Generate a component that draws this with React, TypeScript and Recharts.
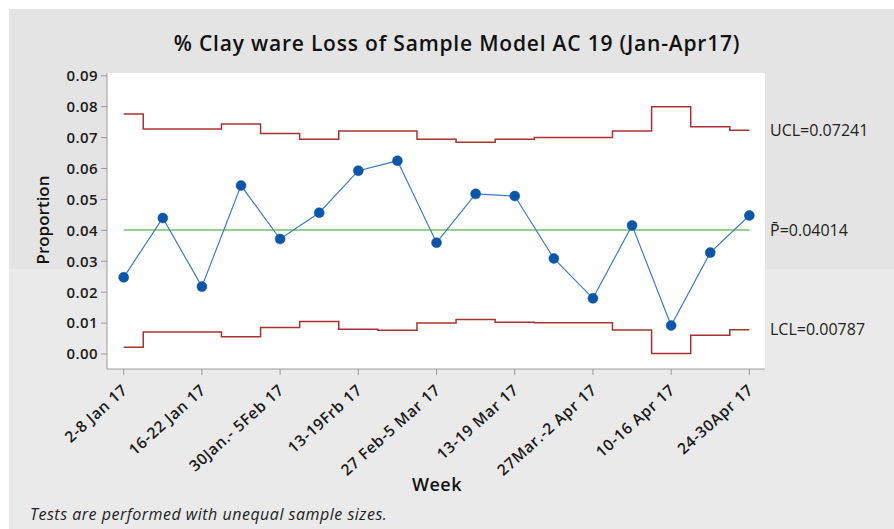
import { LineChart, Line, XAxis, YAxis, CartesianGrid, ReferenceLine } from "recharts";

// weekly proportion of clay ware loss, Jan-Apr 2017
const weeks = [1, 2, 3, 4, 5, 6, 7, 8, 9, 10, 11, 12, 13, 14, 15, 16, 17];
const proportion = [
  0.0248, 0.044, 0.0218, 0.0545, 0.0372, 0.0457, 0.0593, 0.0625, 0.036,
  0.0518, 0.0511, 0.0309, 0.018, 0.0416, 0.0092, 0.0328, 0.0448,
];
const ucl = [
  0.0776, 0.0728, 0.0728, 0.0744, 0.0713, 0.0695, 0.0721, 0.0721, 0.0695,
  0.0685, 0.0695, 0.07, 0.07, 0.0721, 0.08, 0.0735, 0.07241,
];
const lcl = [
  0.0022, 0.0071, 0.0071, 0.0056, 0.0086, 0.0105, 0.008, 0.0077, 0.01,
  0.0112, 0.0103, 0.0101, 0.0101, 0.0078, 0.0002, 0.0061, 0.00787,
];
const CL = 0.04014;
const UCL_LAST = 0.07241;
const LCL_LAST = 0.00787;

const tickWeeks = [1, 3, 5, 7, 9, 11, 13, 15, 17];
const tickLabels = [
  "2-8 Jan 17",
  "16-22 Jan 17",
  "30Jan.- 5Feb 17",
  "13-19Frb 17",
  "27 Feb-5 Mar 17",
  "13-19 Mar 17",
  "27Mar.-2 Apr 17",
  "10-16 Apr 17",
  "24-30Apr 17",
];
const yTicks = [0, 0.01, 0.02, 0.03, 0.04, 0.05, 0.06, 0.07, 0.08, 0.09];

const X_DOMAIN = [0.573, 17.4];
const Y_DOMAIN = [-0.00485, 0.0909];

const data = weeks.map((w, i) => ({ week: w, p: proportion[i], ucl: ucl[i], lcl: lcl[i] }));

const FONT = "'Open Sans', 'Noto Sans', sans-serif";

function WeekTick({ x, y, payload }: any) {
  const idx = tickWeeks.indexOf(payload.value);
  return (
    <g transform={`translate(${x},${y})`}>
      <text
        x={-6}
        y={0}
        dy={14}
        textAnchor="end"
        transform="rotate(-42)"
        fill="#1a1a1a"
        fontSize={15.5}
        letterSpacing={0.6}
        fontWeight={600}
        fontFamily={FONT}
      >
        {idx >= 0 ? tickLabels[idx] : ""}
      </text>
    </g>
  );
}

export default function App() {
  return (
    <div style={{ position: "absolute", left: 0, top: 0, width: 894, height: 529, background: "#fff", fontFamily: FONT }}>
      <div
        style={{
          position: "absolute",
          left: 9,
          top: 9,
          width: 885,
          height: 520,
          background: "linear-gradient(#e4e4e4 0px, #e4e4e4 260px, #eaeaea 260px)",
        }}
      />
      <div
        style={{
          position: "absolute",
          left: 0,
          width: 894,
          top: 29,
          textAlign: "center",
          paddingLeft: 20,
          boxSizing: "border-box",
          fontSize: 21,
          letterSpacing: 0.8,
          fontWeight: 600,
          color: "#111",
        }}
      >
        % Clay ware Loss of Sample Model AC 19 (Jan-Apr17)
      </div>
      <div
        style={{
          position: "absolute",
          left: 42,
          top: 220,
          transform: "translate(-50%, -50%) rotate(-90deg)",
          fontSize: 17,
          fontWeight: 600,
          color: "#111",
          whiteSpace: "nowrap",
        }}
      >
        Proportion
      </div>
      <div
        style={{
          position: "absolute",
          left: 437,
          top: 484,
          transform: "translate(-50%, -50%)",
          fontSize: 18,
          letterSpacing: 0.5,
          fontWeight: 600,
          color: "#111",
        }}
      >
        Week
      </div>
      <div
        style={{
          position: "absolute",
          left: 30,
          top: 503,
          fontSize: 16,
          letterSpacing: 0.5,
          fontStyle: "italic",
          color: "#222",
          whiteSpace: "nowrap",
        }}
      >
        Tests are performed with unequal sample sizes.
      </div>
      <div style={{ position: "absolute", left: 0, top: 0 }}>
        <LineChart width={894} height={529} data={data} margin={{ top: 73, right: 129, left: 47, bottom: 60 }}>
          <CartesianGrid horizontal={false} vertical={false} fill="#ffffff" />
          <XAxis
            dataKey="week"
            type="number"
            domain={X_DOMAIN}
            allowDataOverflow
            ticks={tickWeeks}
            interval={0}
            height={100}
            tick={<WeekTick />}
            tickSize={6}
            axisLine={{ stroke: "#9a9a9a" }}
            tickLine={{ stroke: "#9a9a9a" }}
          />
          <XAxis
            xAxisId="top"
            orientation="top"
            type="number"
            domain={X_DOMAIN}
            height={0}
            tick={false}
            tickLine={false}
            axisLine={{ stroke: "#9a9a9a" }}
          />
          <YAxis
            type="number"
            domain={Y_DOMAIN}
            allowDataOverflow
            ticks={yTicks}
            interval={0}
            width={60}
            tickFormatter={(v: number) => v.toFixed(2)}
            tick={{ fill: "#1a1a1a", fontSize: 15, fontWeight: 600, fontFamily: FONT, letterSpacing: 0.4 }}
            tickSize={6}
            tickMargin={3}
            axisLine={{ stroke: "#9a9a9a" }}
            tickLine={{ stroke: "#9a9a9a" }}
          />
          <YAxis
            yAxisId="right"
            orientation="right"
            width={0}
            tick={false}
            tickLine={false}
            axisLine={{ stroke: "#9a9a9a" }}
          />
          <ReferenceLine
            segment={[
              { x: weeks[0], y: CL },
              { x: weeks[weeks.length - 1], y: CL },
            ]}
            stroke="#74bf74"
            strokeWidth={1.5}
          />
          <Line type="step" dataKey="ucl" stroke="#a83232" strokeWidth={1.5} dot={false} isAnimationActive={false} />
          <Line type="step" dataKey="lcl" stroke="#a83232" strokeWidth={1.5} dot={false} isAnimationActive={false} />
          <Line
            type="linear"
            dataKey="p"
            stroke="#3d7cc9"
            strokeWidth={1.2}
            dot={{ r: 5, fill: "#0b56a6", stroke: "#0b56a6", strokeWidth: 0.5 }}
            isAnimationActive={false}
          />
          <ReferenceLine
            y={UCL_LAST}
            stroke="none"
            label={{ value: "UCL=0.07241", position: "right", fill: "#222", fontSize: 16, fontFamily: FONT }}
          />
          <ReferenceLine
            y={CL}
            stroke="none"
            label={{ value: "P\u0304=0.04014", position: "right", fill: "#222", fontSize: 16, fontFamily: FONT }}
          />
          <ReferenceLine
            y={LCL_LAST}
            stroke="none"
            label={{ value: "LCL=0.00787", position: "right", fill: "#222", fontSize: 16, fontFamily: FONT }}
          />
        </LineChart>
      </div>
    </div>
  );
}
